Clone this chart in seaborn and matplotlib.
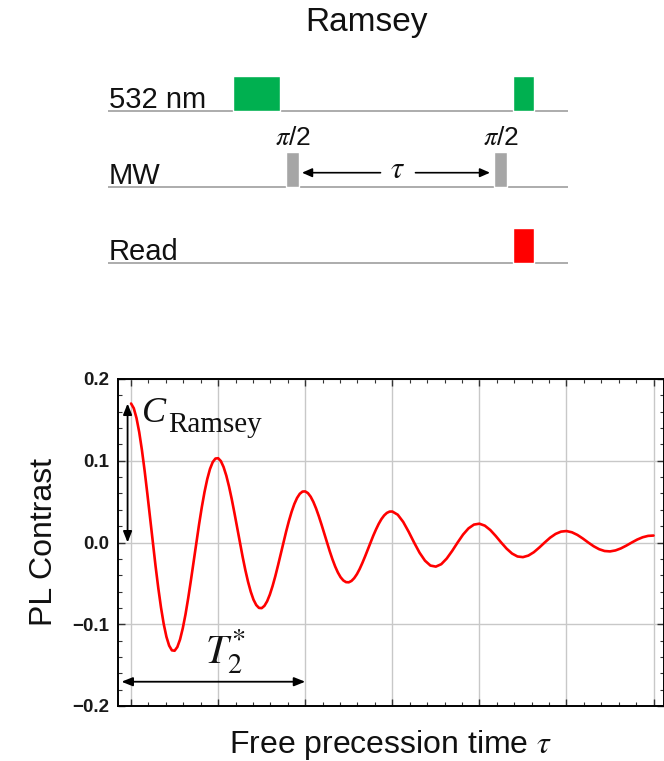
import numpy as np
import pandas as pd
import matplotlib
matplotlib.use("Agg")
import matplotlib.pyplot as plt
import seaborn as sns

# ---------------- data ----------------
channels = ["532 nm", "MW", "Read"]
laser_pulses = [(125, 172), (405, 426)]     # pulse (start, end), sequence time a.u.
mw_pulses = [(178, 191), (386, 399)]
read_pulses = [(405, 426)]
mw_labels = [r"$\pi$/2", r"$\pi$/2"]

# free precession time (a.u.): read finely over the first three periods, coarser afterwards
tau = np.concatenate([np.linspace(0, 3, 97), np.linspace(3.0625, 6, 48)])
contrast_early = [
    0.1700, 0.1642, 0.1522, 0.1349, 0.1129, 0.0874, 0.0592, 0.0297,
    0.0000, -0.0288, -0.0556, -0.0795, -0.0997, -0.1154, -0.1262, -0.1319,
    -0.1324, -0.1279, -0.1186, -0.1050, -0.0880, -0.0680, -0.0461, -0.0232,
    0.0000, 0.0224, 0.0433, 0.0619, 0.0776, 0.0899, 0.0983, 0.1027,
    0.1031, 0.0996, 0.0923, 0.0818, 0.0685, 0.0530, 0.0359, 0.0180,
    0.0000, -0.0175, -0.0338, -0.0482, -0.0604, -0.0700, -0.0765, -0.0800,
    -0.0803, -0.0775, -0.0719, -0.0637, -0.0533, -0.0413, -0.0280, -0.0140,
    0.0000, 0.0136, 0.0263, 0.0376, 0.0471, 0.0545, 0.0596, 0.0623,
    0.0625, 0.0604, 0.0560, 0.0496, 0.0415, 0.0321, 0.0218, 0.0109,
    0.0000, -0.0106, -0.0205, -0.0293, -0.0367, -0.0425, -0.0464, -0.0485,
    -0.0487, -0.0470, -0.0436, -0.0387, -0.0324, -0.0250, -0.0170, -0.0085,
    0.0000, 0.0083, 0.0159, 0.0228, 0.0286, 0.0331, 0.0362, 0.0378,
    0.0379,
]
contrast_late = [
    0.0340, 0.0252, 0.0132, 0.0000, -0.0124, -0.0222, -0.0282,
    -0.0295, -0.0265, -0.0196, -0.0103, 0.0000, 0.0097, 0.0173, 0.0219,
    0.0230, 0.0206, 0.0153, 0.0080, 0.0000, -0.0075, -0.0135, -0.0171,
    -0.0179, -0.0160, -0.0119, -0.0062, 0.0000, 0.0059, 0.0105, 0.0133,
    0.0140, 0.0125, 0.0093, 0.0049, 0.0000, -0.0046, -0.0082, -0.0104,
    -0.0109, -0.0097, -0.0072, -0.0038, 0.0000, 0.0036, 0.0064, 0.0081,
    0.0085,
]
contrast = contrast_early + contrast_late
ytick_values = [-0.2, -0.1, 0.0, 0.1, 0.2]
ytick_labels = ["\u22120.2", "\u22120.1", "0.0", "0.1", "0.2"]
c_ramsey = 0.17
t2_star = 2.0

# ---------------- style ----------------
sns.set_theme(style="white")
plt.rcParams["font.family"] = ["Liberation Sans", "DejaVu Sans"]
plt.rcParams["mathtext.fontset"] = "stix"

W, H = 664, 761
fig = plt.figure(figsize=(W / 100, H / 100), dpi=100)

# ---------------- pulse diagram ----------------
top_h = 300
axd = fig.add_axes([108 / W, 1 - top_h / H, 460 / W, top_h / H])
axd.set_xlim(0, 460)
axd.set_ylim(top_h, 0)
axd.axis("off")

row_base = [110.7, 187.0, 263.0]
label_base = [108.5, 183.5, 260.0]
pulse_h = 35
line_col = "#a6a6a6"
pulse_sets = [laser_pulses, mw_pulses, read_pulses]
pulse_cols = ["#00b050", "#a6a6a6", "#ff0000"]

for name, yb, yl, pulses, col in zip(channels, row_base, label_base, pulse_sets, pulse_cols):
    axd.plot([0, 460], [yb, yb], color=line_col, lw=1.3, zorder=1)
    axd.broken_barh([(s, e - s) for s, e in pulses], (yb - pulse_h, pulse_h),
                    facecolors=col, zorder=2)
    axd.text(1, yl, name, fontsize=21, ha="left", va="baseline", color="#111111")

for (s, e), lab in zip(mw_pulses, mw_labels):
    axd.text((s + e) / 2, 145, lab, fontsize=19, ha="center", va="baseline", color="#111111")

axd.text(258, 22, "Ramsey", fontsize=24, ha="center", va="center", color="#111111")

arr_kw = dict(arrowstyle="-|>,head_length=0.5,head_width=0.22", color="black", lw=1.2,
              shrinkA=0, shrinkB=0)
y_arr = 172.7
mid = (mw_pulses[0][1] + mw_pulses[1][0]) / 2
axd.annotate("", xy=(mw_pulses[0][1] + 3, y_arr), xytext=(mid - 16, y_arr), arrowprops=arr_kw)
axd.annotate("", xy=(mw_pulses[1][0] - 4, y_arr), xytext=(mid + 19, y_arr), arrowprops=arr_kw)
axd.text(mid + 1, 178.5, r"$\tau$", fontsize=22, ha="center", va="baseline", color="#111111")

# ---------------- Ramsey fringe plot ----------------
ax = fig.add_axes([118 / W, 1 - 706 / H, (664 - 118) / W, (706 - 379) / H])
df = pd.DataFrame({"tau": tau, "contrast": contrast})
sns.lineplot(data=df, x="tau", y="contrast", color="#ff0000", lw=1.9, ax=ax, zorder=3)

ax.set_xlim(-0.15, 6.12)
ax.set_ylim(-0.2, 0.2)
ax.set_xticks(np.arange(0, 7, 1))
ax.set_xticks(np.arange(0, 6.01, 0.2), minor=True)
ax.set_xticklabels([])
ax.set_yticks(ytick_values)
ax.set_yticklabels(ytick_labels, fontweight="bold", fontsize=13.5, color="#1a1a1a")
ax.set_yticks(np.arange(-0.2, 0.201, 0.02), minor=True)
ax.tick_params(which="both", direction="in", top=True, right=True, bottom=True, left=True,
               color="#333333")
ax.tick_params(which="major", length=5, width=1.0, pad=6)
ax.tick_params(which="minor", length=3, width=0.8)
ax.grid(True, which="major", color="#c8c8c8", lw=1.0)
for sp in ax.spines.values():
    sp.set_color("black")
    sp.set_linewidth(1.4)

ax.set_xlabel(r"Free precession time $\tau$", fontsize=23, labelpad=10, color="#111111")
ax.set_ylabel("PL Contrast", fontsize=23, labelpad=10, color="#111111")

dbl = dict(arrowstyle="<|-|>,head_length=0.55,head_width=0.22", color="black", lw=1.3,
           shrinkA=0, shrinkB=0)
ax.annotate("", xy=(-0.04, c_ramsey), xytext=(-0.04, 0.0), arrowprops=dbl)
ax.text(0.12, 0.1478, "C", fontsize=26, family="Liberation Serif", style="italic",
        ha="left", va="baseline", color="#111111")
ax.text(0.43, 0.1355, "Ramsey", fontsize=21, family="Liberation Serif",
        ha="left", va="baseline", color="#111111")

ax.annotate("", xy=(-0.11, -0.1703), xytext=(t2_star, -0.1703), arrowprops=dbl)
ax.text(0.85, -0.1478, r"$T_2^{*}$", fontsize=29, ha="left", va="baseline", color="#111111")

fig.savefig("out.png", dpi=100)
